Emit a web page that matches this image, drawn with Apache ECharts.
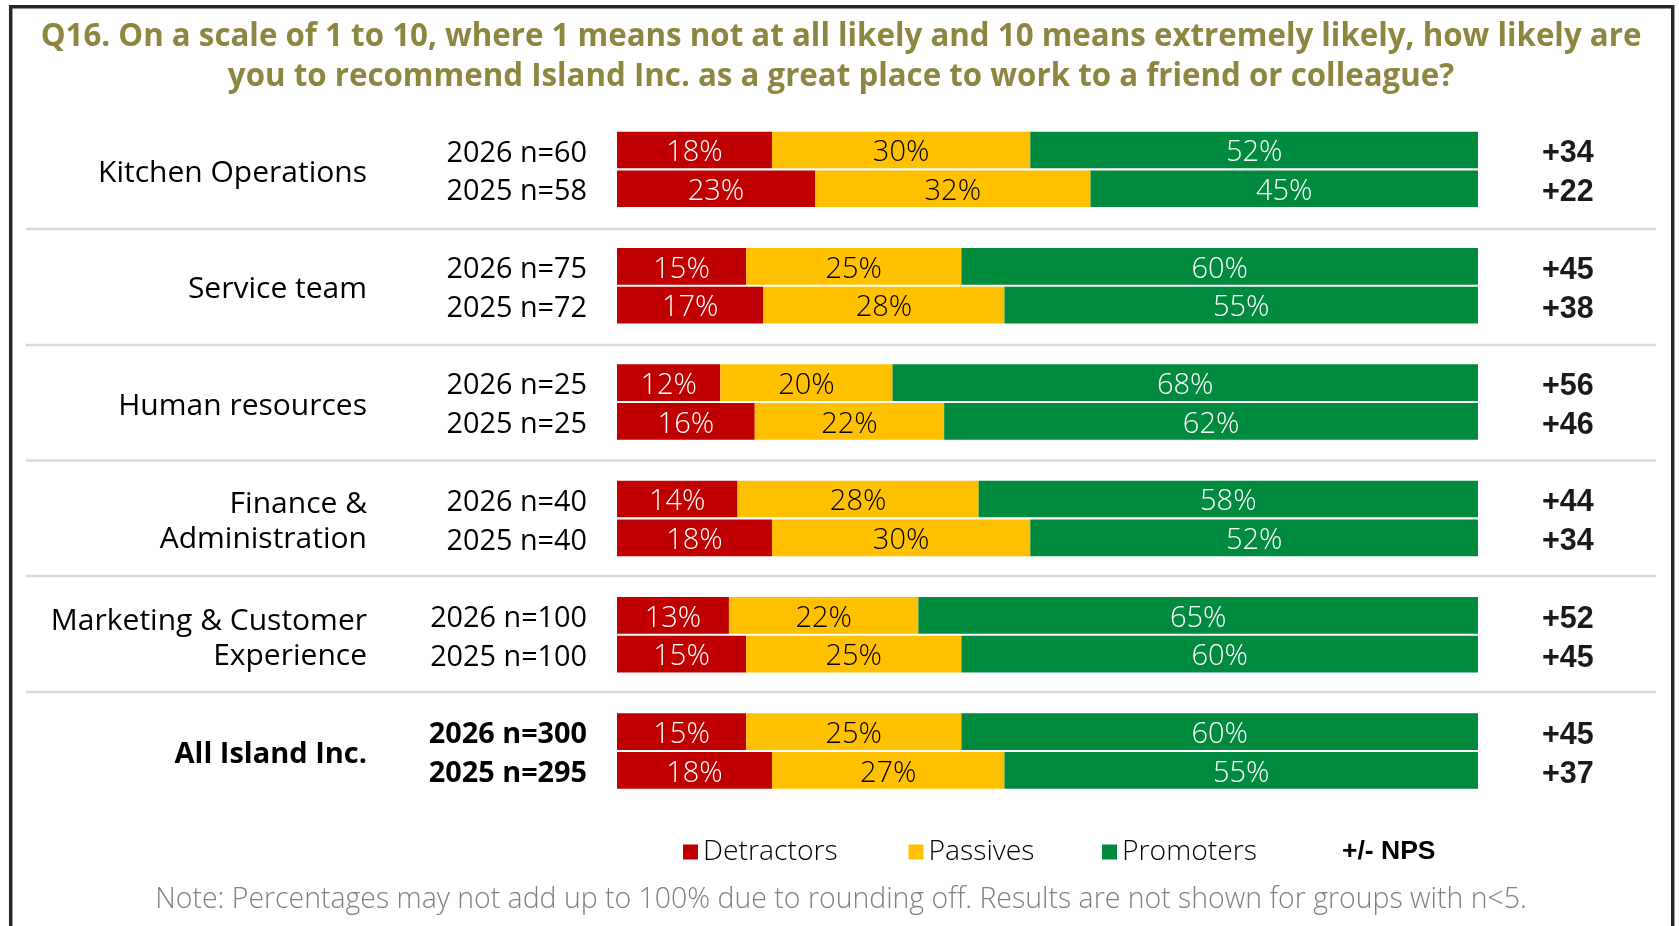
<!DOCTYPE html>
<html><head><meta charset="utf-8">
<script src="https://cdn.jsdelivr.net/npm/echarts/dist/echarts.min.js"></script>
<style>html,body{margin:0;padding:0;background:#fff}#c{width:1679px;height:926px}</style>
</head><body><div id="c"></div>
<script>
// ---- data ----
const groupLabels = ['Kitchen Operations', 'Service team', 'Human resources', 'Finance &\nAdministration', 'Marketing & Customer\nExperience', 'All Island Inc.'];
const yearLabels = ['2026 n=60', '2025 n=58', '2026 n=75', '2025 n=72', '2026 n=25', '2025 n=25', '2026 n=40', '2025 n=40', '2026 n=100', '2025 n=100', '2026 n=300', '2025 n=295'];
const detractors = [18, 23, 15, 17, 12, 16, 14, 18, 13, 15, 15, 18];
const passives   = [30, 32, 25, 28, 20, 22, 28, 30, 22, 25, 25, 27];
const promoters  = [52, 45, 60, 55, 68, 62, 58, 52, 65, 60, 60, 55];
const npsLabels  = ['+34', '+22', '+45', '+38', '+56', '+46', '+44', '+34', '+52', '+45', '+45', '+37'];
const seriesNames = ['Detractors', 'Passives', 'Promoters'];
const titleLine1 = 'Q16. On a scale of 1 to 10, where 1 means not at all likely and 10 means extremely likely, how likely are';
const titleLine2 = 'you to recommend Island Inc. as a great place to work to a friend or colleague?';
const noteText = 'Note: Percentages may not add up to 100% due to rounding off. Results are not shown for groups with n<5.';
const npsLegend = '+/- NPS';

// ---- styling ----
const colors = ['#C00000', '#FFC000', '#008A3E'];
const labelColors = ['#fff', '#000', '#fff'];
const REG = "'Open Sans', 'DejaVu Sans', sans-serif";
const BOLDNUM = "'Liberation Sans', Arial, sans-serif";

function fit(text, weight, family, target) {
  const c = document.createElement('canvas').getContext('2d');
  c.font = weight + ' 100px ' + family;
  return 100 * target / c.measureText(text).width;
}
const titleSize = fit(titleLine1, 'bold', REG, 1601);
const noteSize = fit(noteText, '300', REG, 1372);

// 17 slots: two rows per group with a blank slot between groups
const SLOTS = 17;
const slotYear = Array(SLOTS).fill('');
const slotNps = Array(SLOTS).fill('');
const slotVals = [Array(SLOTS).fill('-'), Array(SLOTS).fill('-'), Array(SLOTS).fill('-')];
yearLabels.forEach((y, r) => {
  const s = Math.floor(r / 2) * 3 + (r % 2);
  slotYear[s] = y;
  slotNps[s] = npsLabels[r];
  slotVals[0][s] = detractors[r];
  slotVals[1][s] = passives[r];
  slotVals[2][s] = promoters[r];
});
const halfSlots = Array(2 * SLOTS + 1).fill('');
groupLabels.forEach((g, i) => { halfSlots[6 * i + 2] = g; });
const lastGroup = groupLabels.length - 1;

const chart = echarts.init(document.getElementById('c'), null, {renderer: 'canvas'});
const gridTop = 130.6, pitch = 38.78;

const option = {
  animation: false,
  backgroundColor: '#fff',
  title: [
    {text: titleLine1 + '\n' + titleLine2, left: 841, top: 17, textAlign: 'center', padding: 0,
     textStyle: {fontFamily: REG, fontWeight: 'bold', fontSize: titleSize, color: '#8D8640', lineHeight: 40}},
    {text: noteText, left: 841, top: 886, textAlign: 'center', padding: 0,
     textStyle: {fontFamily: REG, fontWeight: 300, fontSize: noteSize, color: '#808080'}}
  ],
  grid: {left: 617, right: 201, top: gridTop, height: pitch * SLOTS, containLabel: false},
  xAxis: {type: 'value', min: 0, max: 100, show: false},
  yAxis: [
    {type: 'category', data: slotYear, inverse: true, position: 'left',
     axisLine: {show: false}, axisTick: {show: false}, splitLine: {show: false},
     axisLabel: {interval: 0, margin: 30, fontFamily: REG, fontSize: 28.8, color: '#000', padding: [7, 0, 0, 0],
       formatter: (v, i) => v === '' ? '' : (i >= 3 * lastGroup ? '{b|' + v + '}' : v),
       rich: {b: {fontFamily: REG, fontSize: 28.8, fontWeight: 'bold', color: '#000'}}}},
    {type: 'category', data: halfSlots, inverse: true, boundaryGap: false, position: 'left',
     axisLine: {show: false}, axisTick: {show: false}, splitLine: {show: false},
     axisLabel: {interval: 0, margin: 250, fontFamily: REG, fontSize: 30, color: '#000', lineHeight: 35, padding: [8, 0, 0, 0],
       formatter: (v, i) => v === '' ? '' : (i === 6 * lastGroup + 2 ? '{b|' + v + '}' : v),
       rich: {b: {fontFamily: REG, fontSize: 29, fontWeight: 'bold', color: '#000'}}}},
    {type: 'category', data: slotNps, inverse: true, position: 'right',
     axisLine: {show: false}, axisTick: {show: false}, splitLine: {show: false},
     axisLabel: {interval: 0, margin: 64, color: '#1a1a1a',
       formatter: v => v === '' ? '' : '{n|' + v + '}',
       rich: {n: {fontFamily: BOLDNUM, fontWeight: 'bold', fontSize: 30.5, color: '#1a1a1a', padding: [8, 0, 0, 0]}}}}
  ],
  legend: seriesNames.map((n, i) => ({
    data: [n], left: [683, 908.5, 1102][i], top: 838, itemWidth: 15, itemHeight: 15, icon: 'rect',
    padding: 0, selectedMode: false,
    textStyle: {fontFamily: REG, fontSize: 28.3, color: '#000', fontWeight: 300}
  })),
  series: seriesNames.map((n, k) => ({
    name: n, type: 'bar', stack: 'nps', yAxisIndex: 0, barWidth: 36.7,
    data: slotVals[k], itemStyle: {color: colors[k]},
    emphasis: {disabled: true},
    label: {show: true, position: 'inside', offset: [0, 3], formatter: '{c}%', color: labelColors[k],
      fontFamily: REG, fontSize: 29, fontWeight: 300}
  })),
  graphic: [
    {type: 'rect', silent: true, shape: {x: 10.7, y: 6.7, width: 1662, height: 1000},
     style: {fill: 'none', stroke: '#262626', lineWidth: 3.5}},
    ...[229, 345, 460.5, 576, 692].map(y => ({type: 'line', silent: true,
      shape: {x1: 26, y1: y, x2: 1656, y2: y}, style: {stroke: '#D9D9D9', lineWidth: 2.5}})),
    {type: 'text', silent: true, x: 1342, y: 852,
     style: {text: npsLegend, fontFamily: BOLDNUM, fontWeight: 'bold', fontSize: 26.5, fill: '#000', verticalAlign: 'middle'}}
  ]
};
chart.setOption(option);
</script></body></html>
